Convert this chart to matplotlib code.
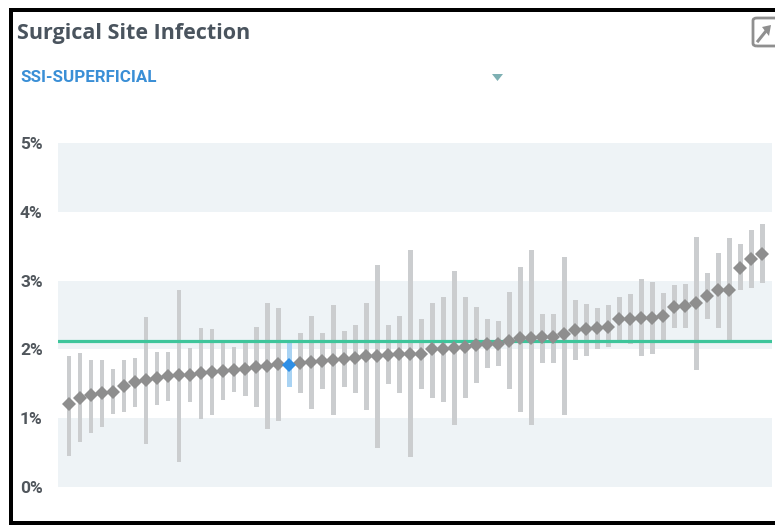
import numpy as np
import matplotlib
matplotlib.use("Agg")
import matplotlib.pyplot as plt
from matplotlib.patches import Rectangle, Polygon, FancyBboxPatch

# hospital rates (%), sorted, with interval bounds
est = [1.20, 1.30, 1.33, 1.37, 1.38, 1.47, 1.53, 1.55, 1.58, 1.62,
       1.63, 1.63, 1.65, 1.67, 1.69, 1.70, 1.72, 1.75, 1.76, 1.79,
       1.78, 1.80, 1.81, 1.83, 1.84, 1.86, 1.87, 1.90, 1.90, 1.92,
       1.93, 1.93, 1.94, 2.00, 2.01, 2.02, 2.03, 2.06, 2.08, 2.08,
       2.12, 2.17, 2.17, 2.18, 2.18, 2.22, 2.28, 2.30, 2.31, 2.33,
       2.44, 2.44, 2.45, 2.45, 2.48, 2.62, 2.63, 2.67, 2.77, 2.86,
       2.87, 3.19, 3.31, 3.39]
hi = [1.91, 1.95, 1.85, 1.85, 1.72, 1.85, 1.87, 2.47, 1.96, 1.96,
      2.87, 2.02, 2.31, 2.29, 2.09, 2.03, 2.09, 2.33, 2.67, 2.60,
      2.09, 2.24, 2.49, 2.24, 2.64, 2.27, 2.36, 2.67, 3.23, 2.36,
      2.49, 3.44, 2.44, 2.67, 2.76, 3.14, 2.76, 2.62, 2.44, 2.42,
      2.83, 3.20, 3.44, 2.52, 2.52, 3.35, 2.72, 2.66, 2.60, 2.65,
      2.76, 2.81, 3.02, 2.98, 2.82, 2.93, 2.95, 3.64, 3.11, 3.40,
      3.62, 3.53, 3.73, 3.82]
lo = [0.45, 0.65, 0.79, 0.87, 1.06, 1.09, 1.16, 0.63, 1.19, 1.25,
      0.37, 1.24, 0.99, 1.05, 1.27, 1.38, 1.32, 1.16, 0.85, 0.96,
      1.45, 1.36, 1.14, 1.43, 1.05, 1.45, 1.36, 1.12, 0.56, 1.49,
      1.36, 0.43, 1.43, 1.29, 1.23, 0.90, 1.29, 1.51, 1.73, 1.76,
      1.43, 1.09, 0.90, 1.80, 1.80, 1.05, 1.85, 1.91, 2.01, 2.03,
      2.13, 2.08, 1.90, 1.94, 2.13, 2.31, 2.31, 1.70, 2.44, 2.31,
      2.13, 2.86, 2.89, 2.96]
highlight = 20
benchmark = 2.12
yticks = [0, 1, 2, 3, 4, 5]
ytick_labels = ["0%", "1%", "2%", "3%", "4%", "5%"]

est = np.array(est)
hi = np.array(hi)
lo = np.array(lo)
x = np.arange(len(est))

W, H = 775, 525
fig = plt.figure(figsize=(7.75, 5.25), dpi=100)
ax = fig.add_axes([58 / W, 38 / H, 714 / W, 344 / H])

for b in (0, 2, 4):
    ax.axhspan(b, b + 1, color="#eef3f6", zorder=0, lw=0)

bar_cols = ["#cbcdcf"] * len(x)
bar_cols[highlight] = "#a9d3f3"
ax.bar(x, hi - lo, bottom=lo, width=0.45, color=bar_cols, zorder=2)

ax.axhline(benchmark, color="#3ec59b", lw=2.3, zorder=3)

mask = x != highlight
ax.plot(x[mask], est[mask], "D", color="#8e8e8e", ms=7, mew=0, zorder=4)
ax.plot(x[highlight], est[highlight], "D", color="#2e8fe6", ms=7, mew=0, zorder=5)

ax.set_xlim(-1, 63.9)
ax.set_ylim(0, 5)
ax.set_yticks(yticks)
ax.set_yticklabels(ytick_labels, fontsize=12.5, fontweight="bold", color="#50565c",
                   family=["Roboto", "DejaVu Sans"])
ax.tick_params(axis="y", length=0, pad=11)
ax.set_xticks([])
for s in ax.spines.values():
    s.set_visible(False)

fig.text(17 / W, 1 - 33 / H, "Surgical Site Infection", fontsize=15.5,
         fontweight="bold", color="#4a545e", va="center",
         family=["Open Sans", "DejaVu Sans"])
fig.text(20 / W, 1 - 78 / H, "SSI-SUPERFICIAL", fontsize=12.2,
         fontweight="bold", color="#3a8fd6", va="center",
         family=["Roboto", "DejaVu Sans"])

# dropdown caret
tri = [(492 / W, 1 - 74 / H), (503 / W, 1 - 74 / H), (497.5 / W, 1 - 81 / H)]
fig.patches.append(Polygon(tri, closed=True, transform=fig.transFigure,
                           color="#7eb0b3", lw=0))

# expand icon
fig.patches.append(FancyBboxPatch((753 / W, 1 - 46 / H), 26 / W, 28 / H,
                                  boxstyle="round,pad=0,rounding_size=0.005",
                                  transform=fig.transFigure, fill=False,
                                  ec="#8f8f8f", lw=2))
fig.add_artist(plt.Line2D([758 / W, 766 / W], [1 - 41 / H, 1 - 31 / H],
                          transform=fig.transFigure, color="#8f8f8f", lw=2.2))
head = [(762 / W, 1 - 27 / H), (771 / W, 1 - 25 / H), (769 / W, 1 - 36 / H)]
fig.patches.append(Polygon(head, closed=True, transform=fig.transFigure,
                           color="#8f8f8f", lw=0))

# black frame (left, top, bottom)
fig.patches.append(Rectangle((9 / W, 0), 4 / W, 1 - 8 / H, transform=fig.transFigure,
                             color="black", lw=0))
fig.patches.append(Rectangle((9 / W, 1 - 12 / H), 1, 4 / H, transform=fig.transFigure,
                             color="black", lw=0))
fig.patches.append(Rectangle((9 / W, 0), 1, 4 / H, transform=fig.transFigure,
                             color="black", lw=0))

fig.savefig("out.png", dpi=100)
